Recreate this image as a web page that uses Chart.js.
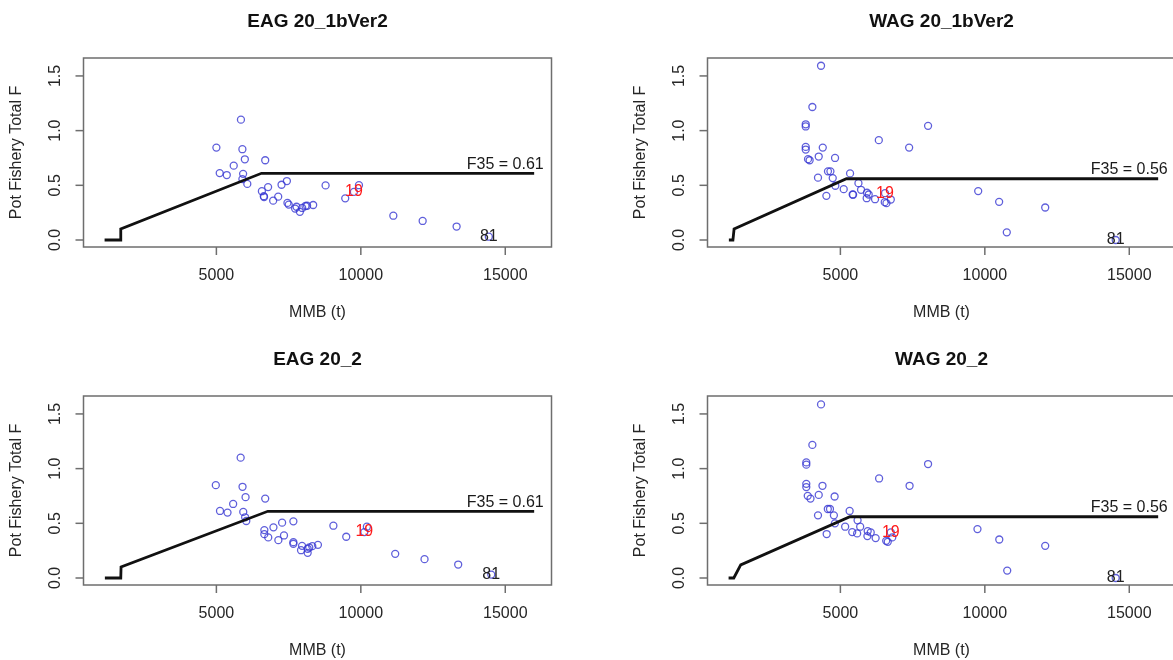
<!DOCTYPE html>
<html>
<head>
<meta charset="utf-8">
<script src="https://cdn.jsdelivr.net/npm/chart.js@4"></script>
<style>
  html, body { margin: 0; padding: 0; background: #fff; }
  body { width: 1173px; height: 660px; overflow: hidden; position: relative; }
  canvas { position: absolute; }
</style>
</head>
<body>
<canvas id="c0" width="624" height="339" style="left:0;top:0"></canvas>
<canvas id="c1" width="624" height="339" style="left:624px;top:0"></canvas>
<canvas id="c2" width="624" height="339" style="left:0;top:338px"></canvas>
<canvas id="c3" width="624" height="339" style="left:624px;top:338px"></canvas>
<script>
// panel titles and axis ticks
const panelTitles = ["EAG 20_1bVer2", "WAG 20_1bVer2", "EAG 20_2", "WAG 20_2"];
const xTicks = [5000, 10000, 15000];
const yTicks = [0, 0.5, 1, 1.5];
const yTickLabels = ["0.0", "0.5", "1.0", "1.5"];
const f35Values = [0.61, 0.56, 0.61, 0.56];
const yearLabels = ["81", "19"];

// EAG 20_1bVer2
const eag1bMMB = [5850, 5000, 5900, 5985, 6690, 5600, 5115, 5360, 5925, 5900, 6070, 6575, 6790, 6640, 6650, 6965, 7140, 7255, 7440, 7460, 7505, 7725, 7775, 7890, 7970, 8085, 8140, 8350, 8780, 9460, 9935, 9760, 11125, 12140, 13315, 14430];
const eag1bF = [1.10, 0.845, 0.83, 0.738, 0.729, 0.68, 0.612, 0.594, 0.605, 0.557, 0.513, 0.446, 0.484, 0.401, 0.393, 0.36, 0.396, 0.505, 0.539, 0.339, 0.324, 0.287, 0.304, 0.258, 0.293, 0.311, 0.313, 0.32, 0.499, 0.381, 0.501, 0.44, 0.222, 0.174, 0.123, 0.03];
const eag1bLabelMMB = [14430, 9760];
const eag1bLabelF = [0.03, 0.44];
const eag1bRuleMMB = [1130, 1680, 1690, 6560, 16000];
const eag1bRuleF = [0, 0, 0.10, 0.61, 0.61];

// WAG 20_1bVer2
const wag1bMMB = [4330, 4030, 3800, 3800, 8035, 6330, 7380, 3800, 3800, 4390, 4250, 4815, 3880, 3935, 4570, 4655, 5335, 4225, 4735, 4825, 5625, 5115, 5715, 5425, 5440, 4515, 5920, 5980, 5910, 6200, 6535, 6595, 6745, 9770, 10495, 12090, 10760, 14530, 6545];
const wag1bF = [1.593, 1.216, 1.058, 1.038, 1.044, 0.913, 0.845, 0.851, 0.827, 0.845, 0.763, 0.75, 0.739, 0.729, 0.628, 0.628, 0.609, 0.57, 0.566, 0.496, 0.52, 0.465, 0.459, 0.416, 0.414, 0.404, 0.432, 0.416, 0.382, 0.373, 0.346, 0.337, 0.37, 0.447, 0.349, 0.297, 0.07, 0.0, 0.428];
const wag1bLabelMMB = [14530, 6545];
const wag1bLabelF = [0.0, 0.428];
const wag1bRuleMMB = [1140, 1280, 1320, 5210, 16000];
const wag1bRuleF = [0, 0, 0.10, 0.56, 0.56];

// EAG 20_2
const eag2MMB = [5840, 4980, 5905, 6010, 6690, 5580, 5125, 5385, 5930, 5995, 6035, 6660, 6660, 6795, 6975, 7145, 7275, 7340, 7665, 7665, 7665, 7965, 7930, 8160, 8160, 8215, 8320, 8515, 9050, 9495, 10210, 11190, 12205, 13370, 14515, 10120];
const eag2F = [1.10, 0.849, 0.834, 0.739, 0.726, 0.677, 0.613, 0.598, 0.604, 0.555, 0.521, 0.438, 0.401, 0.371, 0.463, 0.346, 0.506, 0.389, 0.518, 0.328, 0.313, 0.294, 0.254, 0.267, 0.23, 0.279, 0.291, 0.303, 0.478, 0.377, 0.469, 0.221, 0.172, 0.123, 0.031, 0.42];
const eag2LabelMMB = [14515, 10120];
const eag2LabelF = [0.031, 0.42];
const eag2RuleMMB = [1140, 1690, 1700, 6780, 16000];
const eag2RuleF = [0, 0, 0.10, 0.61, 0.61];

// WAG 20_2
const wag2MMB = [4330, 4030, 3820, 3820, 8035, 6340, 7395, 3820, 3820, 4380, 4250, 4800, 3870, 3965, 4565, 4640, 5320, 4225, 4775, 4810, 5595, 5165, 5685, 5410, 5580, 4525, 5945, 6050, 5935, 6220, 6585, 6640, 6795, 9745, 10500, 12090, 10775, 14530, 6745];
const wag2F = [1.587, 1.217, 1.057, 1.036, 1.042, 0.91, 0.843, 0.861, 0.831, 0.843, 0.76, 0.745, 0.751, 0.726, 0.631, 0.631, 0.613, 0.573, 0.573, 0.5, 0.527, 0.469, 0.469, 0.42, 0.408, 0.402, 0.429, 0.417, 0.383, 0.365, 0.34, 0.331, 0.371, 0.447, 0.352, 0.294, 0.068, 0.0, 0.417];
const wag2LabelMMB = [14530, 6745];
const wag2LabelF = [0.0, 0.417];
const wag2RuleMMB = [1130, 1310, 1550, 5330, 16000];
const wag2RuleF = [0, 0, 0.12, 0.56, 0.56];

const FONT = '"Liberation Sans", Arial, Helvetica, sans-serif';

function toPoints(xs, ys) {
  return xs.map((v, i) => ({ x: v, y: ys[i] }));
}

// draws the R style frame, ticks, titles and text labels
const rStyle = {
  id: "rStyle",
  afterDraw(chart, args, opts) {
    const ctx = chart.ctx;
    const a = chart.chartArea;
    const x = chart.scales.x;
    const y = chart.scales.y;
    ctx.save();

    ctx.strokeStyle = "#6e6e6e";
    ctx.lineWidth = 1.5;
    ctx.strokeRect(a.left, a.top, a.right - a.left, a.bottom - a.top);

    ctx.fillStyle = "#262626";
    ctx.font = "16px " + FONT;
    ctx.textAlign = "center";
    ctx.textBaseline = "middle";

    xTicks.forEach((v) => {
      const px = x.getPixelForValue(v);
      ctx.beginPath();
      ctx.moveTo(px, a.bottom);
      ctx.lineTo(px, a.bottom + 8);
      ctx.stroke();
      ctx.fillText(String(v), px, a.bottom + 29);
    });

    yTicks.forEach((v, i) => {
      const py = y.getPixelForValue(v);
      ctx.beginPath();
      ctx.moveTo(a.left - 8, py);
      ctx.lineTo(a.left, py);
      ctx.stroke();
      ctx.save();
      ctx.translate(a.left - 28, py);
      ctx.rotate(-Math.PI / 2);
      ctx.fillText(yTickLabels[i], 0, 0);
      ctx.restore();
    });

    // axis titles
    const midX = (a.left + a.right) / 2;
    ctx.fillText("MMB (t)", midX, a.bottom + 66);
    ctx.save();
    ctx.translate(17, (a.top + a.bottom) / 2);
    ctx.rotate(-Math.PI / 2);
    ctx.fillText("Pot Fishery Total F", 0, 0);
    ctx.restore();

    // F35 label above the flat part of the rule
    ctx.fillStyle = "#1a1a1a";
    ctx.fillText("F35 = " + opts.f35.toFixed(2), x.getPixelForValue(15000), y.getPixelForValue(opts.f35) - 9);

    // first and last year labels
    opts.labelX.forEach((v, i) => {
      ctx.fillStyle = i === 0 ? "#222" : "#ff1a1a";
      ctx.fillText(yearLabels[i], x.getPixelForValue(v), y.getPixelForValue(opts.labelY[i]));
    });

    // main title
    ctx.fillStyle = "#111";
    ctx.font = "bold 19px " + FONT;
    ctx.fillText(opts.title, midX, 22);

    ctx.restore();
  },
};

const panels = [
  [eag1bMMB, eag1bF, eag1bLabelMMB, eag1bLabelF, eag1bRuleMMB, eag1bRuleF],
  [wag1bMMB, wag1bF, wag1bLabelMMB, wag1bLabelF, wag1bRuleMMB, wag1bRuleF],
  [eag2MMB, eag2F, eag2LabelMMB, eag2LabelF, eag2RuleMMB, eag2RuleF],
  [wag2MMB, wag2F, wag2LabelMMB, wag2LabelF, wag2RuleMMB, wag2RuleF],
];

panels.forEach((p, i) => {
  const ctx = document.getElementById("c" + i).getContext("2d");
  new Chart(ctx, {
    type: "scatter",
    data: {
      datasets: [
        {
          data: toPoints(p[4], p[5]),
          showLine: true,
          borderColor: "#111",
          borderWidth: 2.8,
          pointRadius: 0,
          tension: 0,
        },
        {
          data: toPoints(p[0], p[1]),
          pointStyle: "circle",
          pointRadius: 3.5,
          pointBorderWidth: 1.3,
          pointBackgroundColor: "rgba(0,0,0,0)",
          pointBorderColor: "rgba(55,55,210,0.8)",
        },
      ],
    },
    options: {
      responsive: false,
      animation: false,
      devicePixelRatio: 1,
      layout: { padding: { left: 83.5, right: 72.5, top: 58, bottom: 92 } },
      scales: {
        x: { type: "linear", min: 400, max: 16600, display: false },
        y: { type: "linear", min: -0.064, max: 1.664, display: false },
      },
      plugins: {
        legend: { display: false },
        tooltip: { enabled: false },
        rStyle: {
          title: panelTitles[i],
          f35: f35Values[i],
          labelX: p[2],
          labelY: p[3],
        },
      },
    },
    plugins: [rStyle],
  });
});
</script>
</body>
</html>
